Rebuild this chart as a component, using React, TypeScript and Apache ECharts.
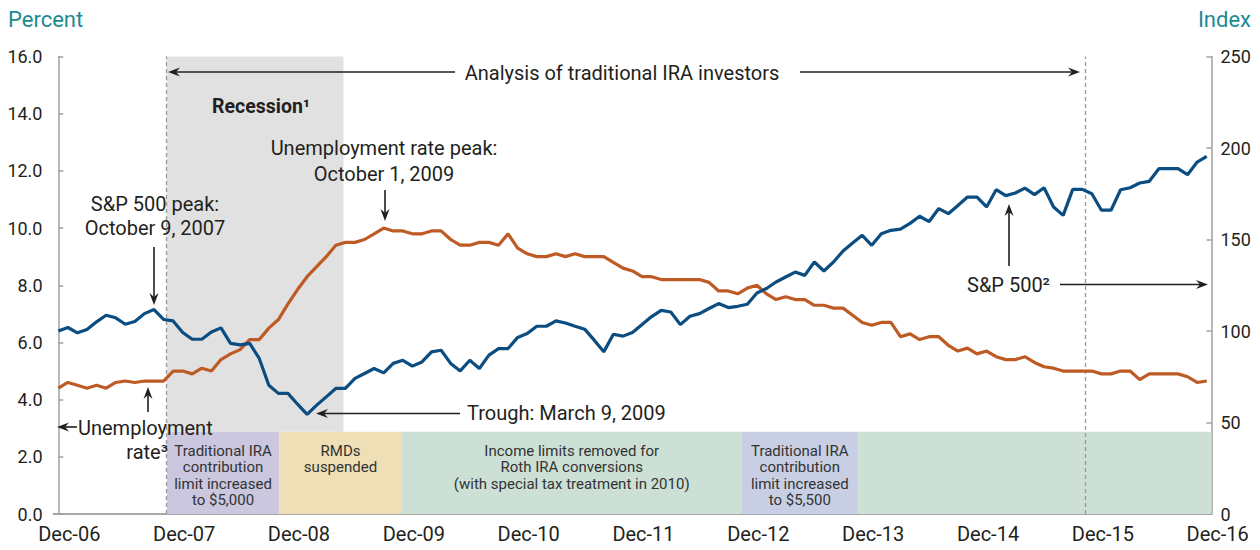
import React, { useEffect, useRef } from "react";
import * as echarts from "echarts";

// Months counted from Dec-06 (0) to Dec-16 (120)
const yearLabels = ["Dec-06", "Dec-07", "Dec-08", "Dec-09", "Dec-10", "Dec-11", "Dec-12", "Dec-13", "Dec-14", "Dec-15", "Dec-16"];
const yearTickMonths = [0, 12, 24, 36, 48, 60, 72, 84, 96, 108, 120];

const unemployment = [
  4.4, 4.6, 4.5, 4.4, 4.5, 4.4, 4.6, 4.65, 4.6, 4.65, 4.65, 4.65,
  5.0, 5.0, 4.9, 5.1, 5.0, 5.4, 5.6, 5.75, 6.1, 6.1, 6.5, 6.8,
  7.35, 7.85, 8.3, 8.65, 9.0, 9.4, 9.5, 9.5, 9.6, 9.8, 10.0, 9.9,
  9.9, 9.8, 9.8, 9.9, 9.9, 9.6, 9.4, 9.4, 9.5, 9.5, 9.4, 9.8,
  9.3, 9.1, 9.0, 9.0, 9.1, 9.0, 9.1, 9.0, 9.0, 9.0, 8.8, 8.6,
  8.5, 8.3, 8.3, 8.2, 8.2, 8.2, 8.2, 8.2, 8.1, 7.8, 7.8, 7.7,
  7.9, 8.0, 7.7, 7.5, 7.6, 7.5, 7.5, 7.3, 7.3, 7.2, 7.2, 6.95,
  6.7, 6.6, 6.7, 6.7, 6.2, 6.3, 6.1, 6.2, 6.2, 5.9, 5.7, 5.8,
  5.6, 5.7, 5.5, 5.4, 5.4, 5.5, 5.3, 5.15, 5.1, 5.0, 5.0, 5.0,
  5.0, 4.9, 4.9, 5.0, 5.0, 4.7, 4.9, 4.9, 4.9, 4.9, 4.8, 4.6,
  4.65,
];

const sp500 = [
  100, 101.9, 99, 100.8, 105, 108.6, 107.2, 103.7, 105.2, 109.5, 111.7, 106.3,
  105.5, 99.2, 95.5, 95.5, 99.5, 101.7, 93.2, 92.4, 93.2, 85, 70.4, 65.9,
  65.9, 60, 54.4, 59.5, 64, 68.6, 68.6, 74.1, 76.8, 79.5, 77.1, 82.3,
  84, 80.8, 83.1, 88.6, 89.5, 82.3, 78.2, 84, 79.5, 86.8, 90.4, 90.4,
  96.5, 98.6, 102.6, 102.6, 105.5, 104.4, 102.6, 101, 95, 88.6, 98.2, 97.2,
  99.2, 103.5, 107.9, 111.3, 110.4, 103.5, 108.1, 109.5, 112.3, 115, 112.8, 113.5,
  114.6, 120.8, 123.2, 126.8, 129.5, 132.2, 130.4, 137.7, 132.8, 137.7, 143.7, 148.1,
  152.3, 146.8, 153.2, 155, 155.7, 158.8, 162.7, 159.8, 166.9, 164.1, 168.6, 173.2,
  173.2, 167.8, 177.2, 174, 175.4, 178.1, 174.5, 178.3, 167.8, 163.2, 177.4, 177.4,
  175, 166, 166, 177.2, 178.3, 180.9, 181.8, 188.7, 188.7, 188.7, 185.4, 192.3,
  195.4,
];

// Policy bands (month start, month end, label, colour)
const bandStarts = [11.35, 23.08, 35.9, 71.4, 83.55];
const bandEnds = [23.08, 35.9, 71.4, 83.55, 120.5];
const bandLabels = [
  "Traditional IRA\ncontribution\nlimit increased\nto $5,000",
  "RMDs\nsuspended",
  "Income limits removed for\nRoth IRA conversions\n(with special tax treatment in 2010)",
  "Traditional IRA\ncontribution\nlimit increased\nto $5,500",
  "",
];
const bandColors = ["#CAC7DE", "#EEDFB6", "#CCE0D6", "#C8CFE4", "#CCE0D6"];
const bandTop = 2.88;

const recessionStart = 11.3;
const recessionEnd = 29.8;
const analysisStart = 11.25;
const analysisEnd = 107.3;

const FONT = "Roboto, 'Noto Sans', sans-serif";
const INK = "#231F20";
const TEAL = "#1E8A92";

function arrow(x1: number, y1: number, x2: number, y2: number) {
  const len = Math.hypot(x2 - x1, y2 - y1);
  const dx = (x2 - x1) / len;
  const dy = (y2 - y1) / len;
  const L = 12, W = 4.5, N = 8;
  const px = -dy, py = dx;
  return [
    {
      type: "line",
      z: 100,
      shape: { x1, y1, x2: x2 - dx * N, y2: y2 - dy * N },
      style: { stroke: INK, lineWidth: 1.6 },
      silent: true,
    },
    {
      type: "polygon",
      z: 100,
      shape: {
        points: [
          [x2, y2],
          [x2 - dx * L + px * W, y2 - dy * L + py * W],
          [x2 - dx * N, y2 - dy * N],
          [x2 - dx * L - px * W, y2 - dy * L - py * W],
        ],
      },
      style: { fill: INK },
      silent: true,
    },
  ];
}

function txt(text: string, x: number, y: number, align: string, size: number, extra: any = {}) {
  return {
    type: "text",
    z: 100,
    x,
    y,
    silent: true,
    style: {
      text,
      fill: extra.fill || INK,
      fontSize: size,
      fontFamily: FONT,
      fontWeight: extra.fontWeight || "normal",
      textAlign: align,
      textVerticalAlign: "middle",
      align,
      verticalAlign: "middle",
    },
  };
}

export default function App() {
  const ref = useRef<HTMLDivElement>(null);

  useEffect(() => {
    if (!ref.current) return;
    const chart = echarts.init(ref.current, undefined, { renderer: "svg" });

    const unempData = unemployment.map((v, i) => [i, v]);
    const spData = sp500.map((v, i) => [i, v]);

    const bandAreas = bandStarts.map((s, i) => [
      {
        xAxis: s,
        yAxis: 0,
        itemStyle: { color: bandColors[i] },
        label: {
          show: bandLabels[i] !== "",
          formatter: bandLabels[i],
          position: "insideTop",
          distance: 11,
          color: "#333333",
          fontSize: 15,
          lineHeight: 16.5,
          fontFamily: FONT,
          align: "center",
        },
      },
      { xAxis: bandEnds[i], yAxis: bandTop },
    ]);

    const option: any = {
      animation: false,
      textStyle: { fontFamily: FONT },
      grid: { left: 53.5, right: 48.5, top: 56.5, bottom: 36, containLabel: false },
      xAxis: {
        type: "value",
        min: -0.5,
        max: 120.5,
        splitLine: { show: false },
        axisTick: { show: false },
        axisLine: { show: true, lineStyle: { color: "#A8A8A8", width: 2 } },
        axisLabel: {
          customValues: yearTickMonths,
          formatter: (v: number) => yearLabels[Math.round(v / 12)],
          fontSize: 20,
          color: INK,
          margin: 10,
          padding: [0, 0, 0, 22],
          fontFamily: FONT,
        },
      },
      yAxis: [
        {
          type: "value",
          min: 0,
          max: 16,
          interval: 2,
          splitLine: { show: false },
          axisLine: { show: true, lineStyle: { color: "#A0A0A0", width: 1.5 } },
          axisTick: { show: true, inside: true, length: 5, lineStyle: { color: "#A0A0A0", width: 1.5 } },
          axisLabel: {
            formatter: (v: number) => v.toFixed(1),
            fontSize: 18,
            color: INK,
            margin: 11,
            fontFamily: FONT,
          },
        },
        {
          type: "value",
          min: 0,
          max: 250,
          interval: 50,
          position: "right",
          splitLine: { show: false },
          axisLine: { show: true, lineStyle: { color: "#A0A0A0", width: 1.5 } },
          axisTick: { show: true, inside: true, length: 5, lineStyle: { color: "#A0A0A0", width: 1.5 } },
          axisLabel: { fontSize: 18, color: INK, margin: 9, fontFamily: FONT },
        },
      ],
      series: [
        {
          name: "recession",
          type: "line",
          data: [],
          yAxisIndex: 0,
          silent: true,
          markArea: {
            silent: true,
            itemStyle: { color: "#E1E1E1" },
            data: [[{ xAxis: recessionStart, yAxis: bandTop }, { xAxis: recessionEnd, yAxis: 16 }]],
          },
        },
        {
          name: "bands",
          type: "line",
          data: [],
          yAxisIndex: 0,
          silent: true,
          markArea: { silent: true, data: bandAreas },
        },
        {
          name: "analysis",
          type: "line",
          data: [],
          yAxisIndex: 0,
          silent: true,
          markLine: {
            silent: true,
            symbol: ["none", "none"],
            label: { show: false },
            lineStyle: { color: "#9A9A9A", type: [4, 3], width: 1.3 },
            data: [{ xAxis: analysisStart }, { xAxis: analysisEnd }],
          },
        },
        {
          name: "Unemployment rate",
          type: "line",
          yAxisIndex: 0,
          data: unempData,
          showSymbol: false,
          lineStyle: { color: "#BE5A24", width: 3.2 },
          itemStyle: { color: "#BE5A24" },
          z: 5,
        },
        {
          name: "S&P 500",
          type: "line",
          yAxisIndex: 1,
          data: spData,
          showSymbol: false,
          lineStyle: { color: "#0B4D80", width: 3.2 },
          itemStyle: { color: "#0B4D80" },
          z: 6,
        },
      ],
      graphic: {
        elements: [
          txt("Percent", 8, 19, "left", 22, { fill: TEAL }),
          txt("Index", 1251, 19, "right", 22, { fill: TEAL }),
          txt("Analysis of traditional IRA investors", 622, 73, "center", 20),
          ...arrow(455, 72, 168, 72),
          ...arrow(800, 72, 1080, 72),
          txt("Recession\u00B9", 212, 106, "left", 19.5, { fontWeight: "bold" }),
          txt("Unemployment rate peak:", 384, 148, "center", 20),
          txt("October 1, 2009", 384, 174, "center", 20),
          ...arrow(385, 190, 385, 221),
          txt("S&P 500 peak:", 155, 204, "center", 20),
          txt("October 9, 2007", 155, 228, "center", 20),
          ...arrow(154, 247, 154, 305),
          txt("Unemployment", 78, 428, "left", 20),
          txt("rate\u00B3", 168, 452, "right", 20),
          ...arrow(77, 427, 57, 427),
          ...arrow(148, 412, 148, 387),
          txt("Trough: March 9, 2009", 467, 413, "left", 20),
          ...arrow(460, 413.5, 316, 413.5),
          txt("S&P 500\u00B2", 967, 285, "left", 20),
          ...arrow(1009, 266, 1009, 204),
          ...arrow(1060, 284.5, 1208, 284.5),
        ],
      },
    };

    chart.setOption(option);
    return () => chart.dispose();
  }, []);

  return (
    <div
      ref={ref}
      style={{ position: "absolute", left: 0, top: 0, width: 1260, height: 550, background: "#ffffff" }}
    />
  );
}
